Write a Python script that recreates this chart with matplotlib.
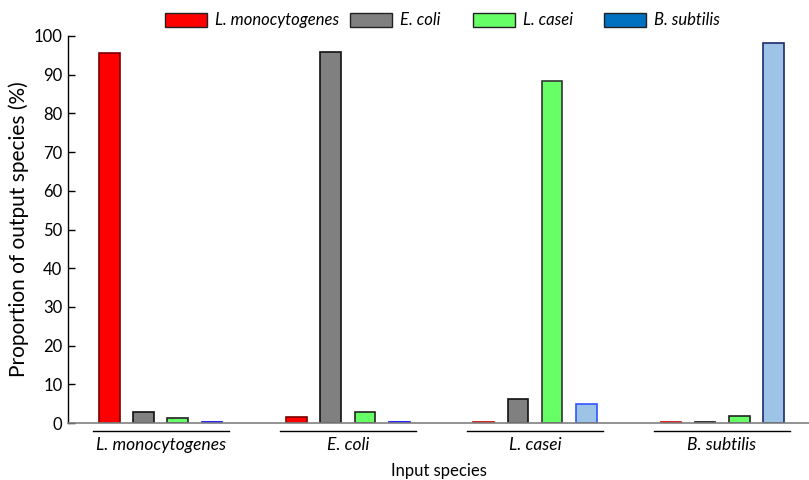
import matplotlib.pyplot as plt
import matplotlib.patches as mpatches
import numpy as np

plt.rcParams['font.family'] = ['Lato', 'DejaVu Sans']

groups = ['L. monocytogenes', 'E. coli', 'L. casei', 'B. subtilis']
series = ['L. monocytogenes', 'E. coli', 'L. casei', 'B. subtilis']
# one list per output species, values for each input species
l_mono = [95.5, 1.5, 0.2, 0.2]
e_coli = [2.9, 95.8, 6.3, 0.2]
l_casei = [1.4, 2.9, 88.5, 1.7]
b_subtilis = [0.3, 0.3, 5.0, 98.3]

face = ['#FF0000', '#808080', '#66FF66', '#9DC3E6']
edges = [['#7A0000', '#7A0000', '#D00000', '#D00000'],
         ['#111111', '#111111', '#111111', '#111111'],
         ['#222222', '#222222', '#333333', '#222222'],
         ['#0000FF', '#0000FF', '#3355FF', '#1F2A6B']]
legend_colors = ['#FF0000', '#808080', '#66FF66', '#0070C0']

W, H = 809, 480
fig = plt.figure(figsize=(W / 100, H / 100), dpi=100)
ax = fig.add_axes([68 / W, 1 - 423 / H, 1 - 68 / W, (423 - 36) / H])

x = np.arange(len(groups))
step = 0.182
width = 0.112
for i, vals in enumerate([l_mono, e_coli, l_casei, b_subtilis]):
    ax.bar(x + (i - 1.5) * step, vals, width, color=face[i],
           edgecolor=edges[i], linewidth=1.2, zorder=2)

ax.set_xlim(-0.497, 3.465)
ax.set_ylim(0, 100)
ax.set_yticks(range(0, 101, 10))
ax.tick_params(axis='y', direction='in', length=5, width=1, labelsize=12, pad=4)
ax.set_xticks([])
for s in ['top', 'right']:
    ax.spines[s].set_visible(False)
ax.spines['bottom'].set_color('#808080')
ax.spines['bottom'].set_linewidth(1.2)
ax.spines['left'].set_linewidth(1)

ax.set_ylabel('Proportion of output species (%)', fontsize=15, labelpad=3)

for xi, g in zip(x, groups):
    ax.plot([xi - 0.364, xi + 0.364], [-2.1, -2.1], color='black', lw=1,
            clip_on=False)
    ax.text(xi, -5.6, g, ha='center', va='center', fontsize=12.5,
            style='italic', clip_on=False)

ax.text(0.5, -0.125, 'Input species', transform=ax.transAxes, ha='center',
        va='center', fontsize=12)

# legend entries placed along the top
legend_x = [165, 350, 473, 604]
for lx, c, name in zip(legend_x, legend_colors, series):
    fig.add_artist(mpatches.Rectangle((lx / W, 1 - 27 / H), 42 / W, 14 / H,
                                      facecolor=c, edgecolor='#222222',
                                      linewidth=1, transform=fig.transFigure))
    fig.text((lx + 50) / W, 1 - 20 / H, name, ha='left', va='center',
             fontsize=12, style='italic')

fig.savefig('out.png', dpi=100)
